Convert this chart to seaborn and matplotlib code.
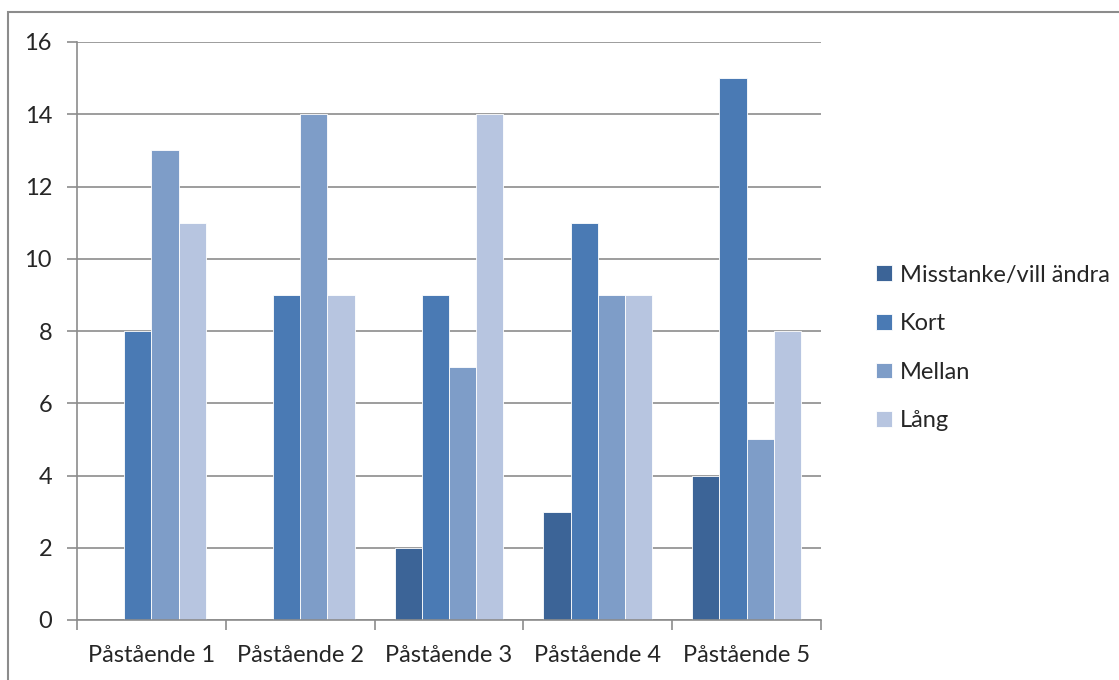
import matplotlib
matplotlib.use("Agg")
import matplotlib.pyplot as plt
import seaborn as sns
import pandas as pd
from matplotlib.patches import Rectangle

categories = ["Påstående 1", "Påstående 2", "Påstående 3", "Påstående 4", "Påstående 5"]
series = ["Misstanke/vill ändra", "Kort", "Mellan", "Lång"]
misstanke = [0, 0, 2, 3, 4]
kort = [8, 9, 9, 11, 15]
mellan = [13, 14, 7, 9, 5]
lang = [11, 9, 14, 9, 8]
colors = ["#3C6497", "#4A7AB4", "#7E9DC8", "#B7C5E0"]

rows = []
for name, vals in zip(series, [misstanke, kort, mellan, lang]):
    for cat, v in zip(categories, vals):
        rows.append({"cat": cat, "serie": name, "val": v})
df = pd.DataFrame(rows)

sns.set_style("white")
plt.rcParams["font.family"] = ["Lato", "DejaVu Sans"]

fig = plt.figure(figsize=(11.19, 6.80), dpi=100)
ax = fig.add_axes([77 / 1119, 1 - 620 / 680, (821 - 77) / 1119, (620 - 42) / 680])

sns.barplot(data=df, x="cat", y="val", hue="serie", palette=colors,
            width=0.73, gap=0, saturation=1, ax=ax,
            edgecolor="white", linewidth=0.6)

ax.set_ylim(0, 16)
ax.set_yticks(range(0, 17, 2))
ax.set_xlim(-0.5, 4.5)
ax.set_xlabel("")
ax.set_ylabel("")
ax.yaxis.grid(True, color="#8C8C8C", linewidth=1.2)
ax.set_axisbelow(True)
for s in ["top", "right"]:
    ax.spines[s].set_visible(False)
for s in ["left", "bottom"]:
    ax.spines[s].set_color("#8C8C8C")
    ax.spines[s].set_linewidth(1.2)

ax.set_xticks([i + 0.5 for i in range(-1, 5)], minor=True)
ax.tick_params(axis="x", which="major", length=0, pad=18, labelsize=17)
ax.tick_params(axis="x", which="minor", length=7, width=1.2, color="#8C8C8C", direction="out", bottom=True)
ax.tick_params(axis="y", length=7, width=1.2, color="#8C8C8C", direction="out", left=True, pad=11, labelsize=17)

handles, labels = ax.get_legend_handles_labels()
ax.legend(handles, labels, loc="center left", bbox_to_anchor=(855 / 1119, 1 - 348 / 680),
          bbox_transform=fig.transFigure, frameon=False, fontsize=17,
          handlelength=0.66, handleheight=0.66, handletextpad=0.34, labelspacing=1.17)

fig.patches.append(Rectangle((8 / 1119, -0.1), 1.2, (1 - 12 / 680) + 0.1, transform=fig.transFigure,
                             fill=False, edgecolor="#8C8C8C", linewidth=1.5))

fig.savefig("out.png", dpi=100)
